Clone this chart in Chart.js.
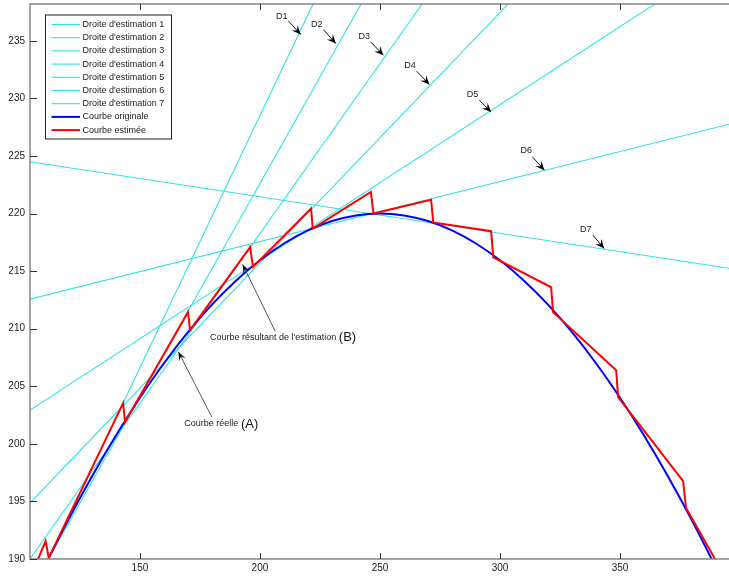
<!DOCTYPE html>
<html><head><meta charset="utf-8">
<script src="https://cdn.jsdelivr.net/npm/chart.js@4/dist/chart.umd.min.js"></script>
<style>html,body{margin:0;padding:0;background:#fff;overflow:hidden}#wrap{width:729px;height:577px}</style>
</head><body><div id="wrap"><canvas id="c" width="729" height="577"></canvas></div>
<script>
// ---- tick labels ----
const xTicks = [150, 200, 250, 300, 350];
const yTicks = [190, 195, 200, 205, 210, 215, 220, 225, 230, 235];

// ---- original curve (blue) ----
const origX = [110,120,130,140,150,160,170,180,190,200,210,220,230,240,250,260,270,280,290,300,310,320,330,340,350,360,370,380,390];
const origY = [189.24,193.34,197.17,200.73,204.01,207.00,209.70,212.09,214.17,215.94,217.40,218.54,219.35,219.84,220.00,219.84,219.35,218.54,217.40,215.94,214.17,212.09,209.70,207.00,204.01,200.73,197.17,193.34,189.24];

// ---- estimated curve (red) ----
const estX = [106.0,110.7,112.0,143.0,143.8,170.0,170.9,195.9,197.1,221.3,222.0,246.2,247.3,271.3,272.2,296.3,297.2,321.3,322.1,348.4,349.2,376.3,377.5,392.0];
const estY = [189.2,191.56,190.1,203.54,201.9,211.44,209.88,217.08,215.37,220.44,218.7,221.88,220.0,221.2,219.23,218.47,216.19,213.6,211.44,206.4,204.06,196.77,194.43,189.1];

// ---- estimation lines D1..D7 (values at x = 100 and x = 400) ----
const lineX = [100, 400];
const droite1 = [184.71, 316.11];
const droite2 = [185.61, 296.61];
const droite3 = [188.77, 277.27];
const droite4 = [193.96, 259.21];
const droite5 = [202.36, 243.01];
const droite6 = [212.35, 228.00];
const droite7 = [224.63, 215.11];

const lineLabels = ["Droite d'estimation 1","Droite d'estimation 2","Droite d'estimation 3","Droite d'estimation 4","Droite d'estimation 5","Droite d'estimation 6","Droite d'estimation 7"];
const droites = [droite1, droite2, droite3, droite4, droite5, droite6, droite7];

const FONT = "'Liberation Sans', Arial, Helvetica, sans-serif";
const CYAN = '#30e4e4';

const toPts = (xs, ys) => xs.map((x, i) => ({x: x, y: ys[i]}));

const datasets = [];
droites.forEach((d, i) => datasets.push({
  label: lineLabels[i], data: toPts(lineX, d), borderColor: CYAN, borderWidth: 1.1,
  pointRadius: 0, tension: 0, order: 2, clip: 0
}));
datasets.push({label: 'Courbe originale', data: toPts(origX, origY), borderColor: '#0000ff', borderWidth: 2,
  pointRadius: 0, tension: 0.4, cubicInterpolationMode: 'monotone', order: 1, clip: 0});
datasets.push({label: 'Courbe estimée', data: toPts(estX, estY), borderColor: '#ff0000', borderWidth: 2,
  pointRadius: 0, tension: 0, order: 0, clip: 0});

// ---- annotations (data coordinates) ----
const dNames = ['D1','D2','D3','D4','D5','D6','D7'];
const dText  = [[209.07,237.14],[223.66,236.41],[243.5,235.34],[262.5,232.82],[288.5,230.36],[310.9,225.44],[335.7,218.62]];
const dFrom  = [[211.83,236.73],[226.4,235.98],[246.2,234.90],[265.3,232.36],[291.4,229.84],[313.5,224.92],[338.65,218.13]];
const dTip   = [[217.0,235.55],[231.6,234.77],[251.4,233.75],[270.6,231.21],[296.3,228.83],[318.5,223.77],[343.4,216.97]];

function arrowHead(ctx, x0, y0, x1, y1, len, half) {
  const a = Math.atan2(y1 - y0, x1 - x0);
  const c = Math.cos(a), s = Math.sin(a);
  const bx = x1 - len * c, by = y1 - len * s;
  const nx = x1 - len * 0.6 * c, ny = y1 - len * 0.6 * s;
  ctx.beginPath();
  ctx.moveTo(x1, y1);
  ctx.lineTo(bx - half * s, by + half * c);
  ctx.lineTo(nx, ny);
  ctx.lineTo(bx + half * s, by - half * c);
  ctx.closePath();
  ctx.fill();
}

const decor = {
  id: 'decor',
  afterDatasetsDraw(chart) {
    const ctx = chart.ctx, a = chart.chartArea, xs = chart.scales.x, ys = chart.scales.y;
    ctx.save();
    // frame
    ctx.strokeStyle = '#858585'; ctx.lineWidth = 1.5;
    ctx.beginPath();
    ctx.moveTo(a.right + 1, a.top); ctx.lineTo(a.left, a.top); ctx.lineTo(a.left, a.bottom); ctx.lineTo(a.right + 1, a.bottom);
    ctx.stroke();
    // ticks (inward)
    ctx.strokeStyle = '#333'; ctx.lineWidth = 1;
    ctx.beginPath();
    xTicks.forEach(v => { const p = Math.round(xs.getPixelForValue(v)) + 0.5;
      ctx.moveTo(p, a.bottom); ctx.lineTo(p, a.bottom - 6);
      ctx.moveTo(p, a.top); ctx.lineTo(p, a.top + 6); });
    yTicks.forEach(v => { const p = Math.round(ys.getPixelForValue(v)) + 0.5;
      ctx.moveTo(a.left, p); ctx.lineTo(a.left + 7, p); });
    ctx.stroke();

    // D labels with arrows
    ctx.font = '9px ' + FONT; ctx.textAlign = 'center'; ctx.textBaseline = 'middle';
    dNames.forEach((n, i) => {
      const tx = xs.getPixelForValue(dText[i][0]), ty = ys.getPixelForValue(dText[i][1]);
      ctx.fillStyle = '#222'; ctx.fillText(n, tx, ty);
      const x0 = xs.getPixelForValue(dFrom[i][0]), y0 = ys.getPixelForValue(dFrom[i][1]);
      const x1 = xs.getPixelForValue(dTip[i][0]), y1 = ys.getPixelForValue(dTip[i][1]);
      ctx.strokeStyle = '#111'; ctx.lineWidth = 1;
      ctx.beginPath(); ctx.moveTo(x0, y0); ctx.lineTo(x1, y1); ctx.stroke();
      ctx.fillStyle = '#000'; arrowHead(ctx, x0, y0, x1, y1, 9, 4);
    });

    // curve annotations
    const notes = [
      {t: 'Courbe réelle', l: '(A)', pos: [168.5, 201.75], from: [179.9, 202.35], tip: [166.0, 208.0]},
      {t: "Courbe résultant de l'estimation", l: '(B)', pos: [179.2, 209.25], from: [206.3, 209.79], tip: [192.8, 215.58]}
    ];
    notes.forEach(n => {
      const tx = xs.getPixelForValue(n.pos[0]), ty = ys.getPixelForValue(n.pos[1]);
      ctx.textAlign = 'left'; ctx.textBaseline = 'middle'; ctx.fillStyle = '#222';
      ctx.font = '9px ' + FONT; ctx.fillText(n.t, tx, ty);
      const w = ctx.measureText(n.t + ' ').width;
      ctx.font = '13px ' + FONT; ctx.fillStyle = '#111'; ctx.fillText(n.l, tx + w, ty + 0.5);
      const x0 = xs.getPixelForValue(n.from[0]), y0 = ys.getPixelForValue(n.from[1]);
      const x1 = xs.getPixelForValue(n.tip[0]), y1 = ys.getPixelForValue(n.tip[1]);
      ctx.strokeStyle = '#555'; ctx.lineWidth = 1;
      ctx.beginPath(); ctx.moveTo(x0, y0); ctx.lineTo(x1, y1); ctx.stroke();
      ctx.fillStyle = '#111'; arrowHead(ctx, x0, y0, x1, y1, 9, 3.5);
    });

    // legend box
    const order = [0,1,2,3,4,5,6,7,8];
    const bx = 45.5, by = 15, bw = 126, bh = 124;
    ctx.fillStyle = '#fff'; ctx.fillRect(bx, by, bw, bh);
    ctx.strokeStyle = '#222'; ctx.lineWidth = 1; ctx.strokeRect(bx, by, bw, bh);
    ctx.font = '9px ' + FONT; ctx.textAlign = 'left'; ctx.textBaseline = 'middle';
    order.forEach((k, i) => {
      const ds = chart.data.datasets[k];
      const y = by + 9.5 + i * 13.2;
      ctx.strokeStyle = ds.borderColor; ctx.lineWidth = ds.borderWidth;
      ctx.beginPath(); ctx.moveTo(bx + 6, y); ctx.lineTo(bx + 34.5, y); ctx.stroke();
      ctx.fillStyle = '#222'; ctx.fillText(ds.label, bx + 37, y);
    });
    ctx.restore();
  }
};

new Chart(document.getElementById('c'), {
  type: 'line',
  data: {datasets: datasets},
  plugins: [decor],
  options: {
    responsive: false, animation: false, devicePixelRatio: 1,
    layout: {padding: {top: 4, right: 0, left: 0, bottom: 0}},
    plugins: {legend: {display: false}, tooltip: {enabled: false}},
    scales: {
      x: {type: 'linear', min: 104.2, max: 395.4,
        afterBuildTicks: s => { s.ticks = xTicks.map(v => ({value: v})); },
        afterFit: s => { s.height = 18; s.paddingLeft = 0; s.paddingRight = 0; },
        grid: {display: false, drawTicks: false}, border: {display: false},
        ticks: {padding: 3, color: '#222', autoSkip: false, maxRotation: 0, font: {size: 10, family: FONT}, callback: v => String(v)}},
      y: {type: 'linear', min: 190, max: 238.2,
        afterBuildTicks: s => { s.ticks = yTicks.map(v => ({value: v})); },
        afterFit: s => { s.width = 30; s.paddingTop = 0; s.paddingBottom = 0; },
        grid: {display: false, drawTicks: false}, border: {display: false},
        ticks: {padding: 5, color: '#222', autoSkip: false, font: {size: 10, family: FONT}, callback: v => String(v)}}
    }
  }
});
</script>
</body></html>
